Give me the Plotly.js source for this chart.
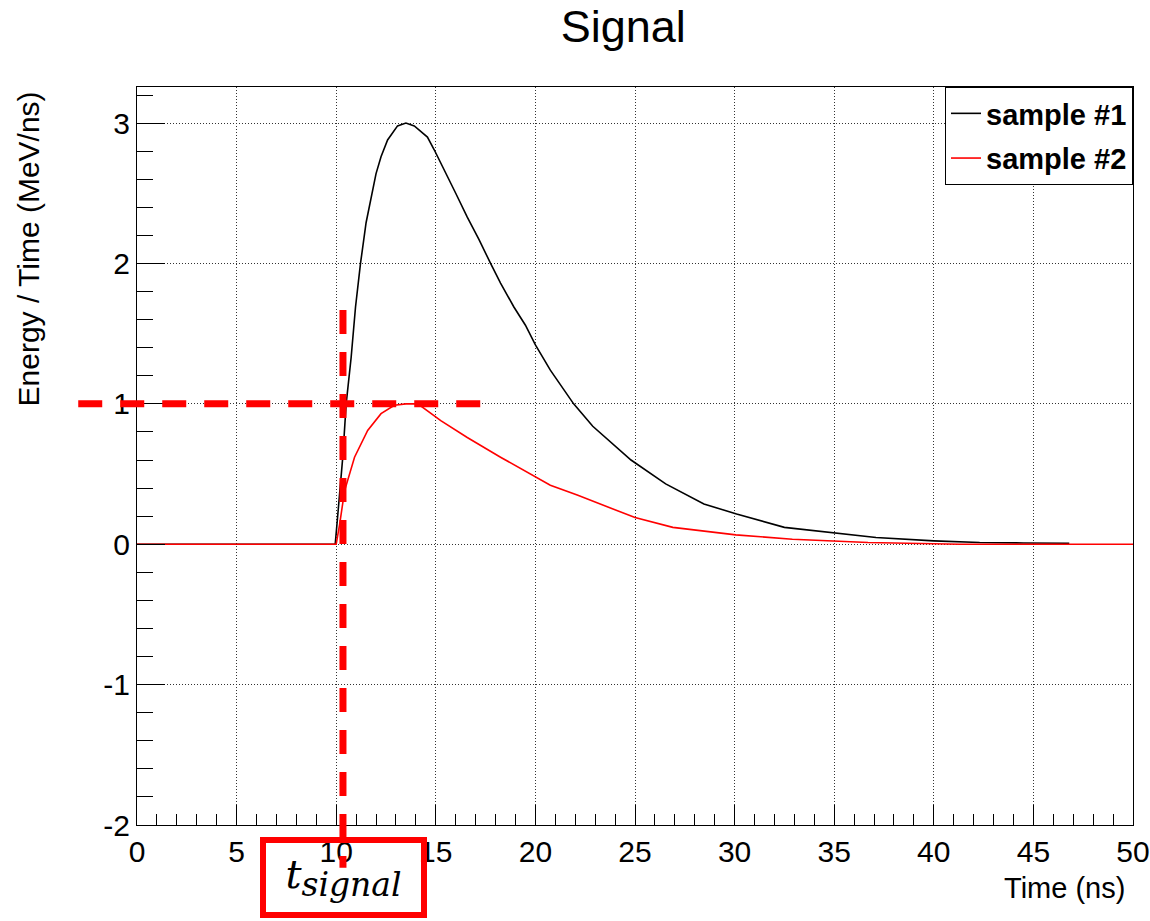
<!DOCTYPE html>
<html>
<head>
<meta charset="utf-8">
<script src="https://cdn.plot.ly/plotly-3.0.1.min.js"></script>
<style>html,body{margin:0;padding:0;background:#fff;}#chart{width:1150px;height:921px;}</style>
</head>
<body>
<div id="chart"></div>
<script>
// Sample #1 (black histogram)
const sample1_x = [0, 9.95, 10.08, 10.33, 10.5, 10.75, 10.97, 11.22, 11.5, 11.83, 12.0, 12.25, 12.58, 13.08, 13.5, 13.92, 14.58, 14.92, 15.42, 16.0, 16.58, 17.17, 17.75, 18.25, 18.92, 19.5, 20.0, 20.75, 21.92, 22.88, 24.8, 26.54, 28.46, 30.1, 32.5, 35.1, 37.1, 40.0, 42.3, 44.5, 46.8];
const sample1_y = [0, 0, 0.21, 0.62, 1.0, 1.33, 1.69, 2.0, 2.29, 2.52, 2.64, 2.76, 2.88, 2.98, 3.0, 2.98, 2.9, 2.81, 2.67, 2.5, 2.33, 2.17, 2.0, 1.86, 1.69, 1.56, 1.42, 1.24, 1.0, 0.84, 0.60, 0.43, 0.287, 0.215, 0.12, 0.077, 0.048, 0.024, 0.012, 0.009, 0.007];
// Sample #2 (red histogram)
const sample2_x = [0, 10.0, 10.17, 10.42, 10.92, 11.58, 12.25, 12.92, 13.5, 14.1, 15.25, 16.58, 18.25, 20.0, 20.75, 22.1, 25.0, 26.9, 30.06, 32.9, 36.7, 41.3, 50];
const sample2_y = [0, 0, 0.14, 0.38, 0.62, 0.81, 0.93, 0.99, 1.0, 1.0, 0.88, 0.76, 0.62, 0.48, 0.42, 0.35, 0.19, 0.12, 0.067, 0.036, 0.012, 0, 0];
const seriesNames = ["sample #1", "sample #2"];
const xTicks = [0, 5, 10, 15, 20, 25, 30, 35, 40, 45, 50];
const yTicks = [-2, -1, 0, 1, 2, 3];
const markerLevel = 1;      // horizontal dashed guide (y value)
const tSignal = 10.34;      // vertical dashed guide (x value)

const font = "Liberation Sans, Arial, sans-serif";

const traces = [
  {x: sample1_x, y: sample1_y, name: seriesNames[0], mode: "lines", line: {color: "#000000", width: 1.6}, legendgroup: "a"},
  {x: sample2_x, y: sample2_y, name: seriesNames[1], mode: "lines", line: {color: "#ff0000", width: 1.6}, legendgroup: "b"}
];

const axisCommon = {
  showline: true, linecolor: "#000", linewidth: 1, mirror: true,
  ticks: "inside", tickcolor: "#000", tickwidth: 1,
  showgrid: true, gridcolor: "#333", griddash: "1px,2px", gridwidth: 1,
  zeroline: false,
  tickfont: {family: font, size: 30, color: "#000"}
};

const layout = {
  width: 1150, height: 921,
  paper_bgcolor: "#fff", plot_bgcolor: "#fff",
  margin: {l: 137, r: 17, t: 87, b: 96},
  title: {text: "Signal", font: {family: font, size: 45, color: "#000"}, xref: "container", x: 0.542, xanchor: "center", yref: "container", y: 0.971, yanchor: "middle"},
  xaxis: Object.assign({}, axisCommon, {
    range: [0, 50], tickvals: xTicks, ticktext: xTicks.map(String), ticklen: 20,
    minor: {ticks: "inside", ticklen: 11, dtick: 1, tick0: 0, tickcolor: "#000", showgrid: false}
  }),
  yaxis: Object.assign({}, axisCommon, {
    range: [-2, 3.257], tickvals: yTicks, ticktext: yTicks.map(String), ticklen: 28,
    minor: {ticks: "inside", ticklen: 16, dtick: 0.2, tick0: 0, tickcolor: "#000", showgrid: false}
  }),
  showlegend: true,
  legend: {
    x: 1, xanchor: "right", y: 1, yanchor: "top",
    bordercolor: "#000", borderwidth: 1, bgcolor: "#fff",
    font: {family: font, size: 29, color: "#000", weight: "bold"},
    traceorder: "grouped", tracegroupgap: 4, itemwidth: 30
  },
  shapes: [
    {type: "line", xref: "paper", yref: "y", x0: -0.059, x1: 0.349, y0: markerLevel, y1: markerLevel,
     line: {color: "#ff0000", width: 7, dash: "24px,18px"}, layer: "above"},
    {type: "line", xref: "x", yref: "paper", x0: tSignal, x1: tSignal, y0: 0.698, y1: -0.058,
     line: {color: "#ff0000", width: 7, dash: "24px,18px"}, layer: "above"}
  ],
  annotations: [
    {text: "Energy / Time (MeV/ns)", xref: "paper", yref: "paper", x: -0.1094, xanchor: "center", y: 0.996, yanchor: "top",
     textangle: -90, showarrow: false, font: {family: font, size: 30, color: "#000"}},
    {text: "Time (ns)", xref: "paper", yref: "paper", x: 0.9935, xanchor: "right", y: -0.085, yanchor: "middle",
     showarrow: false, font: {family: font, size: 29, color: "#000"}},
    {text: "<i>t</i><sub><span style=\"font-size:33px\"><i>signal</i></span></sub>", xref: "paper", yref: "paper", x: 0.2073, xanchor: "center", y: -0.0711, yanchor: "middle",
     showarrow: false, font: {family: "DejaVu Serif, Liberation Serif, serif", size: 40, color: "#000"},
     bordercolor: "#ff0000", borderwidth: 6, borderpad: 0, width: 155, height: 69, bgcolor: "rgba(0,0,0,0)"}
  ]
};

Plotly.newPlot("chart", traces, layout, {displayModeBar: false, staticPlot: true});
</script>
</body>
</html>
